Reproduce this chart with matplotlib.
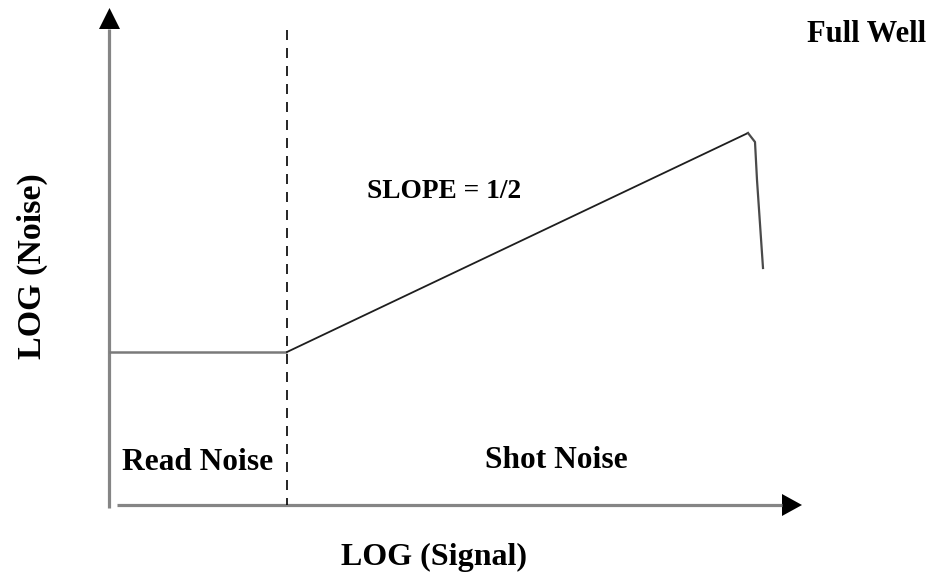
import matplotlib.pyplot as plt

# canvas coordinates (pixels of the 939x578 picture, y grows downward)
W, H = 939, 578

# read noise floor
read_x = [109, 287]
read_y = [352, 352]

# shot noise region, slope 1/2 on log-log
shot_x = [287, 748]
shot_y = [352, 133]

# full well roll-off
well_x = [748, 755, 757, 763]
well_y = [133, 142, 180, 268]

# boundary between the two regimes
split_x = 287
split_y = [30, 505]

# axes with arrow heads
yaxis_x, yaxis_y = [109, 109], [508, 29]
xaxis_x, xaxis_y = [117, 782], [505, 505]
yhead_x, yhead_y = [99, 120, 109.5], [29, 29, 8]
xhead_x, xhead_y = [782, 782, 802], [494, 516, 505]

font = dict(family='Liberation Serif', weight='bold', color='black')

fig = plt.figure(figsize=(W / 100, H / 100), dpi=100)
ax = fig.add_axes([0, 0, 1, 1])
ax.set_xlim(0, W)
ax.set_ylim(H, 0)
ax.axis('off')

# axes
ax.plot(yaxis_x, yaxis_y, color='#858585', lw=2.3, solid_capstyle='butt')
ax.plot(xaxis_x, xaxis_y, color='#858585', lw=2.3, solid_capstyle='butt')
ax.fill(yhead_x, yhead_y, color='black', lw=0)
ax.fill(xhead_x, xhead_y, color='black', lw=0)

# curves
ax.plot(read_x, read_y, color='#7a7a7a', lw=1.8, solid_capstyle='butt')
ax.plot(shot_x, shot_y, color='#1e1e1e', lw=1.3)
ax.plot(well_x, well_y, color='#4a4a4a', lw=1.6)
ax.plot([split_x, split_x], split_y, color='black', lw=1.2,
        linestyle=(0, (6.0, 4.8)))

# labels
ax.text(807, 34, 'Full Well', fontsize=22, ha='left', va='center', **font)
ax.text(367, 192, 'SLOPE = 1/2', fontsize=19.7, ha='left', va='center', **font)
ax.text(122, 462, 'Read Noise', fontsize=22.6, ha='left', va='center', **font)
ax.text(485, 460, 'Shot Noise', fontsize=22.6, ha='left', va='center', **font)
ax.text(341, 557, 'LOG (Signal)', fontsize=23, ha='left', va='center', **font)
ax.text(32, 266, 'LOG (Noise)', fontsize=24.5, ha='center', va='center',
        rotation=90, **font)

fig.savefig('out.png', dpi=100)
